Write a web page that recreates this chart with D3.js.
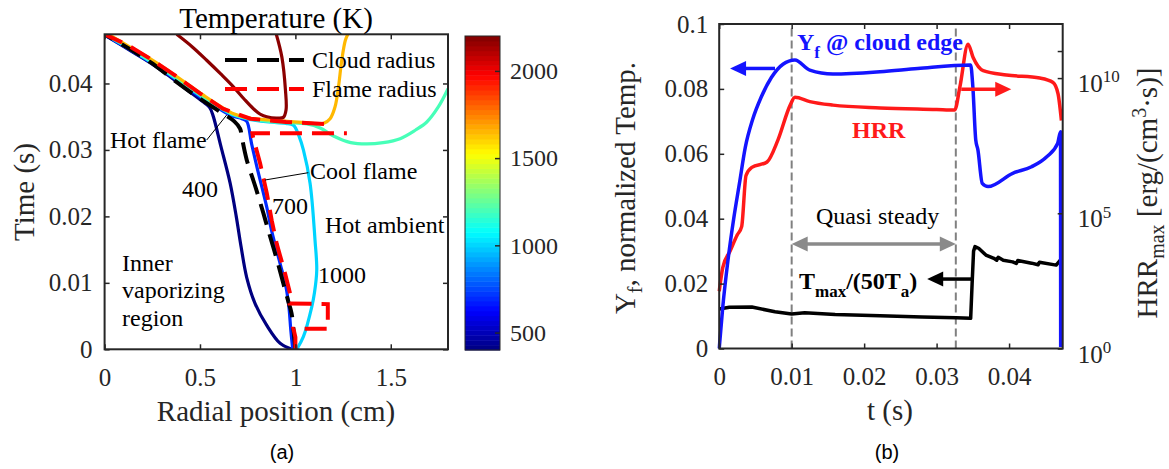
<!DOCTYPE html>
<html>
<head>
<meta charset="utf-8">
<script src="https://cdn.jsdelivr.net/npm/d3@7"></script>
<style>
body { margin: 0; background: #fff; }
svg { display: block; font-family: "Liberation Serif", "Times New Roman", serif; }
</style>
</head>
<body>
<svg width="1169" height="469"></svg>
<script>
// ---------- panel (a): temperature contours, [r (cm), t (s)] ----------
const contour400 = [[0,0.0473],[0.12,0.0452],[0.24,0.0431],[0.34,0.0411],[0.43,0.0391],[0.5,0.0376],[0.55,0.0364],[0.568,0.0352],[0.61,0.0305],[0.658,0.025],[0.69,0.02],[0.715,0.0155],[0.745,0.0108],[0.79,0.0068],[0.85,0.0036],[0.92,0.0009],[0.981,0]];
const contour700 = [[0,0.0473],[0.12,0.0453],[0.24,0.0432],[0.34,0.0413],[0.44,0.0392],[0.52,0.0376],[0.6,0.0362],[0.67,0.0351],[0.72,0.0347],[0.745,0.0343],[0.77,0.031],[0.798,0.0275],[0.85,0.0214],[0.875,0.0179],[0.92,0.0129],[0.95,0.0095],[0.966,0.0064],[0.976,0.0029],[0.986,0]];
const contour1000 = [[0,0.0474],[0.12,0.0454],[0.24,0.0433],[0.34,0.0414],[0.44,0.0394],[0.52,0.0378],[0.6,0.0364],[0.68,0.0352],[0.76,0.0346],[0.86,0.0342],[0.95,0.034],[0.99,0.0337],[1.02,0.032],[1.042,0.03],[1.077,0.025],[1.103,0.0164],[1.112,0.0119],[1.1,0.0085],[1.086,0.0064],[1.042,0.0019],[1.007,0]];
const contour1200 = [[0,0.0474],[0.12,0.0455],[0.24,0.0434],[0.34,0.0415],[0.44,0.0395],[0.52,0.0379],[0.6,0.0365],[0.68,0.0353],[0.76,0.0347],[0.86,0.0343],[0.96,0.0341],[1.06,0.0339],[1.13,0.0333],[1.2,0.0321],[1.29,0.0311],[1.374,0.0309],[1.46,0.0311],[1.549,0.0317],[1.63,0.033],[1.689,0.0342],[1.75,0.0365],[1.8,0.0392]];
const contour1650 = [[0.02,0.0474],[0.12,0.0457],[0.24,0.0437],[0.34,0.0418],[0.44,0.0398],[0.52,0.0382],[0.605,0.0366],[0.68,0.0354],[0.76,0.0348],[0.86,0.0345],[0.96,0.0343],[1.06,0.0341],[1.147,0.034],[1.182,0.0347],[1.208,0.0365],[1.226,0.0395],[1.243,0.0435],[1.262,0.0465],[1.275,0.0474]];
const contour2180 = [[0.378,0.0474],[0.46,0.0455],[0.535,0.0435],[0.61,0.0414],[0.675,0.0395],[0.73,0.0377],[0.78,0.0362],[0.82,0.0353],[0.85,0.035],[0.9,0.0348],[0.937,0.0349],[0.951,0.036],[0.948,0.039],[0.929,0.044],[0.9,0.0474]];
const contourLevels = [400, 700, 1000, 1200, 1650, 2180];
const contours = [contour400, contour700, contour1000, contour1200, contour1650, contour2180];

const cloudRadius = [[1.0,0],[0.99,0.003],[0.98,0.0054],[0.96,0.0075],[0.937,0.0099],[0.9,0.0138],[0.858,0.0179],[0.832,0.0205],[0.79,0.0245],[0.745,0.0285],[0.72,0.0318],[0.71,0.0332],[0.68,0.0343],[0.607,0.0357],[0.48,0.0381],[0.36,0.0406],[0.24,0.0432],[0.12,0.0454],[0,0.0474]];
// flame radius: lower branch (cool flame) and upper branch (hot flame) after the jump
const flameRadiusLower = [[1.0,0],[1.0,0.0018],[0.99,0.0031],[1.17,0.0031],[1.17,0.0068],[0.97,0.0069],[0.972,0.0084],[0.946,0.0114],[0.902,0.0159],[0.876,0.0194],[0.85,0.0235],[0.815,0.028],[0.778,0.0319],[0.775,0.0325],[1.27,0.0325]];
const flameRadiusUpper = [[1.15,0.0339],[0.95,0.0342],[0.764,0.0347],[0.62,0.0362],[0.5,0.0385],[0.38,0.041],[0.24,0.0437],[0.12,0.0458],[0,0.0474]];

const xTicksA = [0, 0.5, 1, 1.5];
const yTicksA = [0, 0.01, 0.02, 0.03, 0.04];
const colorTicks = [500, 1000, 1500, 2000];

// ---------- panel (b): time histories ----------
const tYf = [0,0.0005,0.0012,0.002,0.0028,0.0036,0.0046,0.0058,0.0072,0.0088,0.01045,0.0125,0.0157,0.0222,0.0274,0.0347,0.035,0.0354,0.0357,0.0363,0.0371,0.0405,0.0431,0.0452,0.0467,0.0471,0.04712];
const yfValues = [0,0.013,0.027,0.04,0.051,0.062,0.0705,0.0775,0.0835,0.0876,0.0889,0.0858,0.0846,0.0853,0.0863,0.0874,0.0807,0.0643,0.0612,0.0509,0.0499,0.054,0.056,0.0591,0.0632,0.0668,0.0005];

const tHrr = [0,0.0005,0.0015,0.0025,0.0031,0.0037,0.0045,0.0066,0.0081,0.0098,0.01045,0.0125,0.0157,0.0222,0.03,0.0325,0.0332,0.03434,0.03504,0.03642,0.03964,0.04423,0.04607,0.04676,0.04722];
const hrrValues = [1.3e2,1.0e3,4.0e3,1.6e4,3.2e4,2.5e6,5.0e6,7.9e6,5.1e7,1.0e9,1.95e9,1.35e9,1.0e9,7.9e8,6.9e8,6.6e8,4.5e9,1.8e11,5.8e10,1.9e10,1.3e10,1.0e10,6.9e9,2.6e9,2.7e8];

const tTmax = [0,0.0014,0.0045,0.0077,0.01,0.0118,0.016,0.0222,0.028,0.0327,0.0347,0.0349,0.0351,0.0353,0.0358,0.0368,0.0379,0.0383,0.0385,0.0392,0.0405,0.041,0.0412,0.0431,0.044,0.0442,0.0465,0.0471];
const tmaxValues = [0.0122,0.0127,0.0128,0.0113,0.0106,0.011,0.0105,0.0101,0.0097,0.0095,0.0093,0.02,0.03,0.0314,0.0309,0.0288,0.0278,0.0272,0.0281,0.0272,0.0267,0.0262,0.0271,0.0263,0.0258,0.0266,0.0257,0.0273];

const quasiSteady = [0.01, 0.03265];
const xTicksB = [0, 0.01, 0.02, 0.03, 0.04];
const yTicksB = [0, 0.02, 0.04, 0.06, 0.08, 0.1];
const hrrTicks = [1, 1e5, 1e10, 1e11];
const hrrLabelExp = [0, 5, 10];

// ---------- setup ----------
const svg = d3.select("svg");
const ink = "#262626";
const serif = "Liberation Serif, Times New Roman, serif";

function jet(v) {
  const c = x => Math.max(0, Math.min(1, x));
  const r = c(1.5 - Math.abs(4 * v - 3));
  const g = c(1.5 - Math.abs(4 * v - 2));
  const b = c(1.5 - Math.abs(4 * v - 1));
  return d3.rgb(r * 255, g * 255, b * 255).formatHex();
}

const tMin = 400, tMax = 2200;
const tempColor = T => jet((T - tMin) / (tMax - tMin));

function styleAxis(g) {
  g.attr("font-family", serif).attr("font-size", 25);
  g.select(".domain").remove();
  g.selectAll(".tick line").attr("stroke", ink).attr("stroke-width", 1.5);
  g.selectAll(".tick text").attr("fill", ink);
}

// ================= panel (a) =================
const xA = d3.scaleLinear().domain([0, 1.8]).range([104.6, 448]);
const yA = d3.scaleLinear().domain([0, 0.0474]).range([349.3, 34.3]);

svg.append("clipPath").attr("id", "clipA")
  .append("rect")
  .attr("x", xA(0)).attr("y", yA(0.0474))
  .attr("width", xA(1.8) - xA(0)).attr("height", yA(0) - yA(0.0474));

const lineA = d3.line().x(d => xA(d[0])).y(d => yA(d[1]));
const smooth = d3.curveCatmullRom.alpha(0.5);

const plotA = svg.append("g").attr("clip-path", "url(#clipA)");

plotA.selectAll("path.contour")
  .data(contours)
  .enter()
  .append("path")
  .attr("class", "contour")
  .attr("d", d => lineA.curve(smooth)(d))
  .attr("fill", "none")
  .attr("stroke", (d, i) => tempColor(contourLevels[i]))
  .attr("stroke-width", 3.2)
  .attr("stroke-linejoin", "round");

plotA.append("path")
  .attr("d", lineA.curve(smooth)(cloudRadius))
  .attr("fill", "none").attr("stroke", "#000").attr("stroke-width", 4)
  .attr("stroke-dasharray", "22,10");

plotA.selectAll("path.flame")
  .data([flameRadiusLower, flameRadiusUpper])
  .enter()
  .append("path")
  .attr("class", "flame")
  .attr("d", d => lineA.curve(d3.curveLinear)(d))
  .attr("fill", "none").attr("stroke", "#ff0000").attr("stroke-width", 4)
  .attr("stroke-dasharray", "22,10");

// axes (a)
svg.append("g").attr("transform", `translate(0,${yA(0)})`)
  .call(d3.axisBottom(xA).tickValues(xTicksA).tickSizeInner(-5).tickSizeOuter(0)
    .tickPadding(19).tickFormat(d3.format("~g")))
  .call(styleAxis);
svg.append("g").attr("transform", `translate(0,${yA(0.0474)})`)
  .call(d3.axisTop(xA).tickValues(xTicksA).tickSizeInner(-5).tickSizeOuter(0).tickFormat(""))
  .call(styleAxis);
svg.append("g").attr("transform", `translate(${xA(0)},0)`)
  .call(d3.axisLeft(yA).tickValues(yTicksA).tickSizeInner(-5).tickSizeOuter(0)
    .tickPadding(12).tickFormat(d3.format("~g")))
  .call(styleAxis);
svg.append("g").attr("transform", `translate(${xA(1.8)},0)`)
  .call(d3.axisRight(yA).tickValues(yTicksA).tickSizeInner(-5).tickSizeOuter(0).tickFormat(""))
  .call(styleAxis);
svg.append("rect")
  .attr("x", xA(0)).attr("y", yA(0.0474))
  .attr("width", xA(1.8) - xA(0)).attr("height", yA(0) - yA(0.0474))
  .attr("fill", "none").attr("stroke", ink).attr("stroke-width", 2);

// labels (a)
svg.append("text").attr("x", 276).attr("y", 28).attr("text-anchor", "middle")
  .attr("font-size", 29).attr("fill", "#000").text("Temperature (K)");
svg.append("text").attr("x", 276).attr("y", 421).attr("text-anchor", "middle")
  .attr("font-size", 29).attr("fill", ink).text("Radial position (cm)");
svg.append("text").attr("transform", "translate(34,192) rotate(-90)")
  .attr("text-anchor", "middle").attr("font-size", 29).attr("fill", ink).text("Time (s)");
svg.append("text").attr("x", 282).attr("y", 459).attr("text-anchor", "middle")
  .attr("font-family", "Liberation Sans, Arial, sans-serif").attr("font-size", 20)
  .attr("fill", "#000").text("(a)");

// legend (a)
const legendA = [
  { label: "Cloud radius", color: "#000", y: 60 },
  { label: "Flame radius", color: "#ff0000", y: 89 }
];
legendA.forEach(l => {
  svg.append("line").attr("x1", 225).attr("x2", 304).attr("y1", l.y).attr("y2", l.y)
    .attr("stroke", l.color).attr("stroke-width", 4).attr("stroke-dasharray", "22,10");
  svg.append("text").attr("x", 312).attr("y", l.y + 8).attr("font-size", 24)
    .attr("fill", "#000").text(l.label);
});

// annotations (a)
const notesA = [
  { t: "Hot flame", x: 110, y: 148 },
  { t: "Cool flame", x: 310, y: 179 },
  { t: "400", x: 182, y: 197 },
  { t: "700", x: 272, y: 214 },
  { t: "Hot ambient", x: 325, y: 233 },
  { t: "1000", x: 318, y: 283 },
  { t: "Inner", x: 122, y: 271 },
  { t: "vaporizing", x: 122, y: 298 },
  { t: "region", x: 122, y: 326 }
];
svg.append("g").selectAll("text").data(notesA).enter().append("text")
  .attr("x", d => d.x).attr("y", d => d.y).attr("font-size", 24).attr("fill", "#000")
  .text(d => d.t);
svg.append("line").attr("x1", 206.7).attr("y1", 140).attr("x2", 226.7).attr("y2", 115)
  .attr("stroke", "#000").attr("stroke-width", 1);
svg.append("line").attr("x1", 308.3).attr("y1", 172.7).attr("x2", 265).attr("y2", 180)
  .attr("stroke", "#000").attr("stroke-width", 1);

// colorbar
const cScale = d3.scaleLinear().domain([tMin, tMax]).range([350, 36]);
const nBands = 64;
const bands = d3.range(nBands).map(i => tMin + i * (tMax - tMin) / nBands);
svg.append("g").selectAll("rect").data(bands).enter().append("rect")
  .attr("x", 465).attr("width", 35)
  .attr("y", d => cScale(d + (tMax - tMin) / nBands))
  .attr("height", (350 - 36) / nBands + 0.5)
  .attr("fill", (d, i) => jet((i + 0.5) / nBands));
svg.append("g").attr("transform", "translate(500,0)")
  .call(d3.axisRight(cScale).tickValues(colorTicks).tickSizeInner(-5).tickSizeOuter(0)
    .tickPadding(10).tickFormat(d3.format("d")))
  .call(styleAxis)
  .call(g => g.attr("font-size", 24));
svg.append("rect").attr("x", 465).attr("y", 36).attr("width", 35).attr("height", 314)
  .attr("fill", "none").attr("stroke", ink).attr("stroke-width", 1);

// ================= panel (b) =================
const xB = d3.scaleLinear().domain([0, 0.0474]).range([719.2, 1062.7]);
const yB = d3.scaleLinear().domain([0, 0.1]).range([348.5, 24]);
const yBR = d3.scaleLog().domain([1, 1e12]).range([348.5, 24]);

svg.append("clipPath").attr("id", "clipB")
  .append("rect")
  .attr("x", xB(0) - 2).attr("y", yB(0.1))
  .attr("width", xB(0.0474) - xB(0) + 2).attr("height", yB(0) - yB(0.1) + 2);

const plotB = svg.append("g").attr("clip-path", "url(#clipB)");

// quasi-steady bounds
plotB.selectAll("line.qs").data(quasiSteady).enter().append("line")
  .attr("class", "qs")
  .attr("x1", d => xB(d)).attr("x2", d => xB(d))
  .attr("y1", yB(0)).attr("y2", yB(0.1))
  .attr("stroke", "#808080").attr("stroke-width", 2).attr("stroke-dasharray", "8,4");

const blueLine = d3.line().curve(d3.curveMonotoneX).x((d, i) => xB(tYf[i])).y(d => yB(d));
const redLine = d3.line().curve(d3.curveMonotoneX).x((d, i) => xB(tHrr[i])).y(d => yBR(d));
const blackLine = d3.line().curve(d3.curveLinear).x((d, i) => xB(tTmax[i])).y(d => yB(d));

plotB.append("path").attr("d", blackLine(tmaxValues))
  .attr("fill", "none").attr("stroke", "#000").attr("stroke-width", 3.5).attr("stroke-linejoin", "round");
plotB.append("path").attr("d", redLine(hrrValues))
  .attr("fill", "none").attr("stroke", "#ff1a1a").attr("stroke-width", 3.5).attr("stroke-linejoin", "round");
plotB.append("path").attr("d", blueLine(yfValues))
  .attr("fill", "none").attr("stroke", "#1414ff").attr("stroke-width", 3.5).attr("stroke-linejoin", "round");

// arrows
function arrow(g, x0, y0, x1, y1, color, both) {
  const L = 16, W = 7.5;
  const dx = x1 - x0, dy = y1 - y0, len = Math.hypot(dx, dy);
  const ux = dx / len, uy = dy / len;
  const head = (tx, ty, sx, sy) => {
    const bx = tx - sx * L, by = ty - sy * L;
    return `M${tx},${ty}L${bx - sy * W},${by + sx * W}L${bx + sy * W},${by - sx * W}Z`;
  };
  const sx0 = both ? x0 + ux * (L - 2) : x0, sy0 = both ? y0 + uy * (L - 2) : y0;
  g.append("line").attr("x1", sx0).attr("y1", sy0)
    .attr("x2", x1 - ux * (L - 2)).attr("y2", y1 - uy * (L - 2))
    .attr("stroke", color).attr("stroke-width", 3.5);
  g.append("path").attr("d", head(x1, y1, ux, uy)).attr("fill", color);
  if (both) g.append("path").attr("d", head(x0, y0, -ux, -uy)).attr("fill", color);
}
const arrows = svg.append("g");
arrow(arrows, xB(0.0077), yB(0.0863), xB(0.0015), yB(0.0863), "#1414ff", false);
arrow(arrows, xB(0.0334), yB(0.0799), xB(0.0403), yB(0.0799), "#ff1a1a", false);
arrow(arrows, xB(0.03485), yB(0.0214), xB(0.0287), yB(0.0214), "#000", false);
arrow(arrows, xB(quasiSteady[0]), yB(0.0322), xB(quasiSteady[1]), yB(0.0322), "#8a8a8a", true);

// axes (b)
svg.append("g").attr("transform", `translate(0,${yB(0)})`)
  .call(d3.axisBottom(xB).tickValues(xTicksB).tickSizeInner(-5).tickSizeOuter(0)
    .tickPadding(19).tickFormat(d3.format("~g")))
  .call(styleAxis);
svg.append("g").attr("transform", `translate(0,${yB(0.1)})`)
  .call(d3.axisTop(xB).tickValues(xTicksB).tickSizeInner(-5).tickSizeOuter(0).tickFormat(""))
  .call(styleAxis);
svg.append("g").attr("transform", `translate(${xB(0)},0)`)
  .call(d3.axisLeft(yB).tickValues(yTicksB).tickSizeInner(-5).tickSizeOuter(0)
    .tickPadding(11).tickFormat(d3.format("~g")))
  .call(styleAxis);
svg.append("g").attr("transform", `translate(${xB(0.0474)},0)`)
  .call(d3.axisRight(yBR).tickValues(hrrTicks).tickSizeInner(-5).tickSizeOuter(0).tickFormat(""))
  .call(styleAxis);
svg.append("rect")
  .attr("x", xB(0)).attr("y", yB(0.1))
  .attr("width", xB(0.0474) - xB(0)).attr("height", yB(0) - yB(0.1))
  .attr("fill", "none").attr("stroke", ink).attr("stroke-width", 2);

// log tick labels
const hrrLab = svg.append("g").selectAll("text").data(hrrLabelExp).enter().append("text")
  .attr("x", xB(0.0474) + 15).attr("y", d => yBR(Math.pow(10, d)) + 14)
  .attr("font-size", 25).attr("fill", ink);
hrrLab.append("tspan").text("10");
hrrLab.append("tspan").attr("font-size", 17).attr("dy", -9.6).text(d => d);

// labels (b)
svg.append("text").attr("x", 890).attr("y", 420).attr("text-anchor", "middle")
  .attr("font-size", 29).attr("fill", ink).text("t (s)");
svg.append("text").attr("x", 887).attr("y", 459).attr("text-anchor", "middle")
  .attr("font-family", "Liberation Sans, Arial, sans-serif").attr("font-size", 20)
  .attr("fill", "#000").text("(b)");

const yLabB = svg.append("text").attr("transform", "translate(635,188) rotate(-90)")
  .attr("text-anchor", "middle").attr("font-size", 29).attr("fill", ink);
yLabB.append("tspan").text("Y");
yLabB.append("tspan").attr("font-size", 20).attr("dy", 7).text("f");
yLabB.append("tspan").attr("dy", -7).text(", normalized Temp.");

const yLabR = svg.append("text").attr("transform", "translate(1157,193) rotate(-90)")
  .attr("text-anchor", "middle").attr("font-size", 29).attr("fill", ink);
yLabR.append("tspan").text("HRR");
yLabR.append("tspan").attr("font-size", 20).attr("dy", 7).text("max");
yLabR.append("tspan").attr("dy", -7).text(" [erg/(cm");
yLabR.append("tspan").attr("font-size", 20).attr("dy", -11).text("3");
yLabR.append("tspan").attr("dy", 11).text("\u00b7s)]");

// annotations (b)
const yfNote = svg.append("text").attr("x", 797).attr("y", 50)
  .attr("font-size", 24).attr("font-weight", "bold").attr("fill", "#1414ff");
yfNote.append("tspan").text("Y");
yfNote.append("tspan").attr("font-size", 17).attr("dy", 8).text("f");
yfNote.append("tspan").attr("dy", -8).text(" @ cloud edge");

svg.append("text").attr("x", 852).attr("y", 138).attr("font-size", 24)
  .attr("font-weight", "bold").attr("fill", "#ff1a1a").text("HRR");

svg.append("text").attr("x", 816).attr("y", 224).attr("font-size", 24)
  .attr("fill", "#000").text("Quasi steady");

const tNote = svg.append("text").attr("x", 799).attr("y", 289)
  .attr("font-size", 24).attr("font-weight", "bold").attr("fill", "#000");
tNote.append("tspan").text("T");
tNote.append("tspan").attr("font-size", 17).attr("dy", 8).text("max");
tNote.append("tspan").attr("dy", -8).text("/(50T");
tNote.append("tspan").attr("font-size", 17).attr("dy", 8).text("a");
tNote.append("tspan").attr("dy", -8).text(")");
</script>
</body>
</html>
